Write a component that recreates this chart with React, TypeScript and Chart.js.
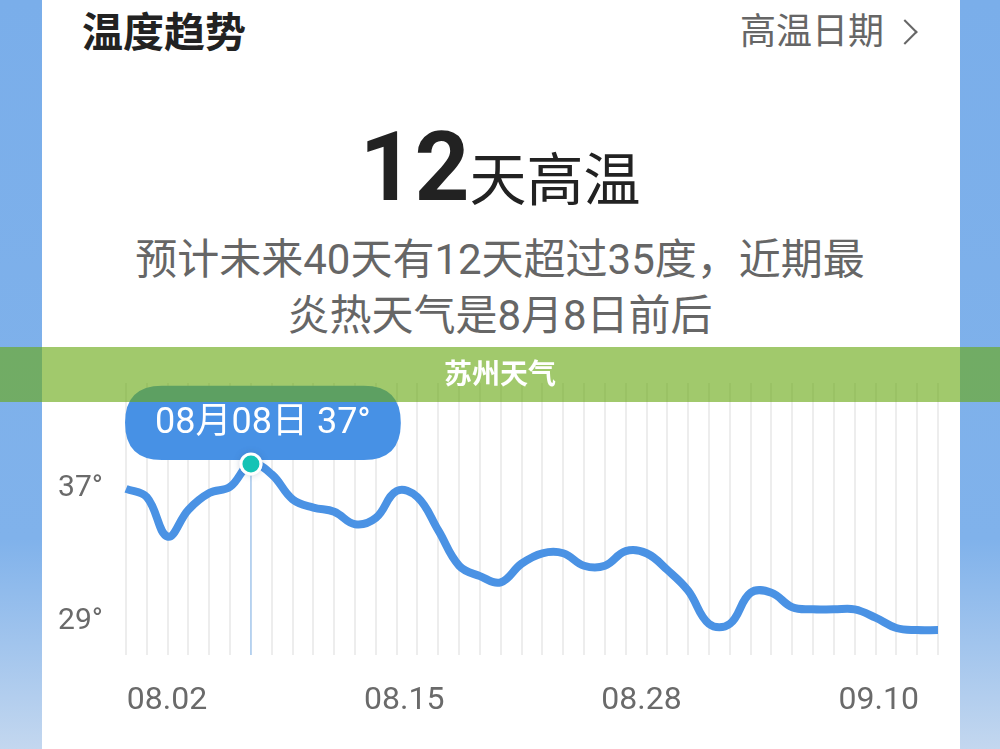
import React, { useEffect, useRef } from 'react';
import { Chart, registerables, Tooltip } from 'chart.js';

Chart.register(...registerables);

// ---- data ----
const dates = [
  '08.02', '08.03', '08.04', '08.05', '08.06', '08.07', '08.08', '08.09', '08.10', '08.11',
  '08.12', '08.13', '08.14', '08.15', '08.16', '08.17', '08.18', '08.19', '08.20', '08.21',
  '08.22', '08.23', '08.24', '08.25', '08.26', '08.27', '08.28', '08.29', '08.30', '08.31',
  '09.01', '09.02', '09.03', '09.04', '09.05', '09.06', '09.07', '09.08', '09.09', '09.10',
];
const highTemps = [
  35.8, 35.4, 33.5, 34.8, 35.6, 35.9, 37, 36.5, 35.3, 34.9,
  34.7, 34.1, 34.4, 35.7, 35.4, 33.8, 32.1, 31.6, 31.3, 32.2,
  32.7, 32.7, 32.1, 32.1, 32.8, 32.7, 31.9, 30.9, 29.3, 29.3,
  30.8, 30.8, 30.1, 30.0, 30.0, 30.0, 29.6, 29.1, 29.0, 29.0,
];
const yTickValues = [29, 37];
const xTickLabels = ['08.02', '08.15', '08.28', '09.10'];
const highlightDate = '08.08';

const FONT = "Roboto, 'Noto Sans CJK SC', sans-serif";
const highlightIndex = dates.indexOf(highlightDate);

(Tooltip as any).positioners.pillAbove = function (items: any[]) {
  if (!items.length) return false;
  const el = items[0].element;
  return { x: el.x + 12, y: el.y };
};

const highlightLine = {
  id: 'highlightLine',
  beforeDatasetsDraw(chart: any) {
    const el = chart.getDatasetMeta(0).data[highlightIndex];
    if (!el) return;
    const { ctx, chartArea } = chart;
    ctx.save();
    ctx.strokeStyle = '#a9cbf1';
    ctx.lineWidth = 1.5;
    ctx.beginPath();
    ctx.moveTo(el.x, el.y);
    ctx.lineTo(el.x, chartArea.bottom);
    ctx.stroke();
    ctx.restore();
  },
  afterDraw(chart: any) {
    const el = chart.getDatasetMeta(0).data[highlightIndex];
    if (!el) return;
    const { ctx } = chart;
    // highlighted point drawn above the tooltip pill, with a soft glow
    ctx.save();
    ctx.shadowColor = 'rgba(60,90,130,0.25)';
    ctx.shadowBlur = 6;
    ctx.fillStyle = '#ffffff';
    ctx.beginPath();
    ctx.arc(el.x, el.y, 11.5, 0, Math.PI * 2);
    ctx.fill();
    ctx.restore();
    ctx.save();
    ctx.fillStyle = '#14c3b5';
    ctx.beginPath();
    ctx.arc(el.x, el.y, 8.5, 0, Math.PI * 2);
    ctx.fill();
    ctx.restore();
  },
};

export default function App() {
  const ref = useRef<HTMLCanvasElement>(null);

  useEffect(() => {
    const canvas = ref.current;
    if (!canvas) return;
    const chart = new Chart(canvas, {
      type: 'line',
      data: {
        labels: dates,
        datasets: [
          {
            data: highTemps,
            yAxisID: 'yd',
            xAxisID: 'x',
            borderColor: '#4a92e4',
            borderWidth: 8,
            borderCapStyle: 'butt',
            borderJoinStyle: 'round',
            tension: 0.4,
            fill: false,
            pointRadius: (c: any) => (c.dataIndex === highlightIndex ? 10 : 0),
            pointHoverRadius: (c: any) => (c.dataIndex === highlightIndex ? 10 : 0),
            pointBackgroundColor: '#14c3b5',
            pointBorderColor: '#ffffff',
            pointBorderWidth: 3,
            pointHoverBorderWidth: 3,
          } as any,
        ],
      },
      options: {
        responsive: false,
        animation: false,
        events: [],
        layout: { padding: { top: 383, right: 62, bottom: 0, left: 0 } },
        scales: {
          x: {
            type: 'category',
            position: 'bottom',
            offset: false,
            grid: { display: true, color: '#ededed', lineWidth: 2, drawTicks: false },
            border: { display: false },
            ticks: { display: false, autoSkip: false },
          },
          xl: {
            type: 'linear',
            position: 'bottom',
            min: -0.1726,
            max: 3.25,
            grid: { display: false, drawTicks: false },
            border: { display: false },
            afterBuildTicks: (axis: any) => {
              axis.ticks = xTickLabels.map((_, i) => ({ value: i }));
            },
            afterFit: (axis: any) => {
              axis.height = 94;
            },
            ticks: {
              autoSkip: false,
              maxRotation: 0,
              padding: 27,
              color: '#6a6a6a',
              font: { family: FONT, size: 32, lineHeight: 1.2 },
              callback: (v: any) => xTickLabels[v] ?? '',
            },
          },
          y: {
            type: 'linear',
            position: 'left',
            min: 26.94,
            max: 43.42,
            grid: { display: false, drawTicks: false },
            border: { display: false },
            afterBuildTicks: (axis: any) => {
              axis.ticks = yTickValues.map((v) => ({ value: v }));
            },
            afterFit: (axis: any) => {
              axis.width = 126;
            },
            ticks: {
              padding: 23,
              color: '#6a6a6a',
              font: { family: FONT, size: 30 },
              callback: (v: any) => `${v}°`,
            },
          },
          yd: {
            type: 'linear',
            display: false,
            min: 27.8,
            max: 40.9,
          },
        },
        plugins: {
          legend: { display: false },
          title: { display: false },
          tooltip: {
            enabled: true,
            position: 'pillAbove' as any,
            xAlign: 'center',
            yAlign: 'bottom',
            caretSize: 0,
            caretPadding: 4,
            cornerRadius: 37,
            backgroundColor: '#4791e5',
            borderWidth: 0,
            displayColors: false,
            padding: { top: 17, bottom: 14, left: 30, right: 30 },
            titleColor: '#ffffff',
            titleAlign: 'center',
            titleMarginBottom: 0,
            titleFont: { family: FONT, size: 36, weight: 'normal', lineHeight: 1.2 },
            callbacks: {
              title: (items: any[]) => {
                const [m, d] = String(items[0].label).split('.');
                return `${m}月${d}日 ${Math.round(items[0].raw)}°`;
              },
              label: () => '',
            },
          } as any,
        },
      },
      plugins: [highlightLine],
    } as any);

    chart.tooltip?.setActiveElements([{ datasetIndex: 0, index: highlightIndex }], { x: 0, y: 0 });
    chart.update();

    return () => chart.destroy();
  }, []);

  return (
    <div
      style={{
        position: 'fixed',
        left: 0,
        top: 0,
        width: 1000,
        height: 749,
        overflow: 'hidden',
        background: 'linear-gradient(180deg, #7aaeea 0%, #80b2eb 72%, #c3d7ef 100%)',
        fontFamily: FONT,
      }}
    >
      <div style={{ position: 'absolute', left: 42, top: 0, width: 918, height: 749, background: '#ffffff' }} />
      <div
        style={{
          position: 'absolute', left: 82, top: 13, fontSize: 41, fontWeight: 700,
          lineHeight: '41px', color: '#222', whiteSpace: 'nowrap',
        }}
      >
        温度趋势
      </div>
      <div
        style={{
          position: 'absolute', left: 740, top: 14, fontSize: 36, lineHeight: '36px',
          color: '#666', whiteSpace: 'nowrap',
        }}
      >
        高温日期
      </div>
      <div
        style={{
          position: 'absolute', left: 896, top: 23, width: 18, height: 18, boxSizing: 'border-box',
          borderTop: '2.5px solid #666', borderRight: '2.5px solid #666', transform: 'rotate(45deg)',
        }}
      />
      <div
        style={{
          position: 'absolute', left: 0, width: 1000, top: 119, textAlign: 'center',
          fontSize: 96, lineHeight: '96px', color: '#222', whiteSpace: 'nowrap',
        }}
      >
        <span style={{ fontWeight: 700 }}>12</span>
        <span style={{ fontSize: 57 }}>天高温</span>
      </div>
      <div
        style={{
          position: 'absolute', left: 0, width: 1000, top: 232, textAlign: 'center',
          fontSize: 42, lineHeight: '56px', color: '#666', whiteSpace: 'nowrap',
        }}
      >
        <div>预计未来40天有12天超过35度，近期最</div>
        <div>炎热天气是8月8日前后</div>
      </div>
      <canvas
        ref={ref}
        width={1000}
        height={749}
        style={{ position: 'absolute', left: 0, top: 0, width: 1000, height: 749, zIndex: 1, display: 'block' }}
      />
      <div
        style={{
          position: 'absolute', left: 0, top: 347, width: 1000, height: 55, zIndex: 2,
          background: 'rgba(106,169,22,0.63)', color: '#fff', fontWeight: 700, fontSize: 28,
          lineHeight: '55px', textAlign: 'center', whiteSpace: 'nowrap',
        }}
      >
        苏州天气
      </div>
    </div>
  );
}
